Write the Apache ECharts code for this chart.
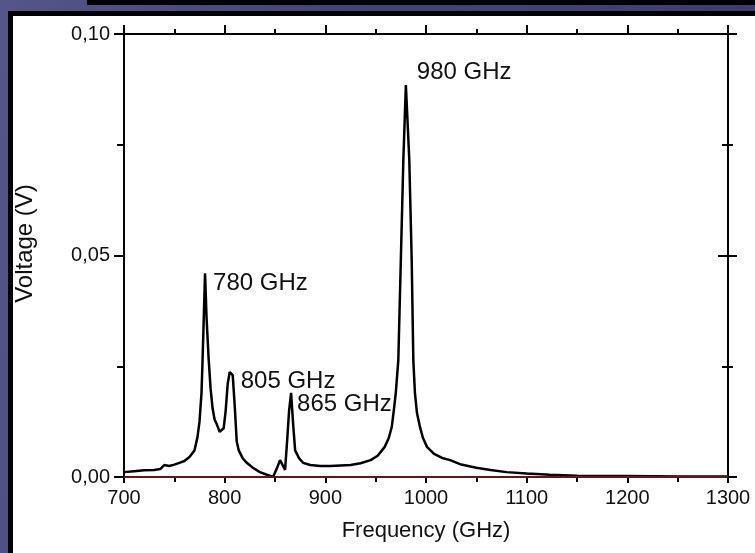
<!DOCTYPE html>
<html>
<head>
<meta charset="utf-8">
<script src="https://cdn.jsdelivr.net/npm/echarts@6/dist/echarts.min.js"></script>
<style>
  html, body { margin: 0; padding: 0; width: 755px; height: 553px; overflow: hidden; }
  body { background: linear-gradient(100deg, #55558a 0%, #44447a 40%, #3c3c72 100%); position: relative; }
  #topbox { position: absolute; left: 87px; top: -6px; width: 700px; height: 6px; background: #fff; border: 5px solid #000; border-top: none; }
  #panel { position: absolute; left: 8px; top: 11px; width: 800px; height: 600px; background: #fff; border: 5px solid #000; box-sizing: border-box; }
  #chart { position: absolute; left: 0; top: 0; width: 755px; height: 553px; }
</style>
</head>
<body>
<div id="topbox"></div>
<div id="panel"></div>
<div id="chart"></div>
<script>
// ---- data ----
const frequency = [700, 710, 720, 730, 736, 740, 745, 750, 755, 760, 765, 770, 773, 775, 777, 778, 779, 780.5, 782, 784, 786, 788, 790, 792, 795, 799, 801, 803, 805, 808, 810, 812, 814, 818, 822, 828, 835, 842, 848, 852, 855, 858, 860, 862, 864, 866, 868, 870, 874, 878, 885, 895, 905, 915, 925, 935, 945, 952, 959, 963, 966, 968, 970, 972.5, 975, 977.5, 980, 983.4, 985.8, 987.4, 989, 991, 994, 997, 1001, 1008, 1016, 1024, 1035, 1050, 1064, 1080, 1100, 1123, 1150, 1200, 1250, 1300];
const voltage = [0.0011, 0.0013, 0.0015, 0.0016, 0.0018, 0.0027, 0.0025, 0.0028, 0.0032, 0.0036, 0.0045, 0.006, 0.009, 0.0125, 0.019, 0.026, 0.034, 0.046, 0.036, 0.027, 0.02, 0.0155, 0.013, 0.012, 0.0102, 0.011, 0.015, 0.021, 0.0237, 0.023, 0.016, 0.008, 0.006, 0.0042, 0.0032, 0.0021, 0.0011, 0.0005, 0.0, 0.002, 0.0038, 0.0025, 0.0016, 0.008, 0.015, 0.019, 0.012, 0.006, 0.0042, 0.0032, 0.0027, 0.0025, 0.0025, 0.0026, 0.0027, 0.0031, 0.0038, 0.0048, 0.0068, 0.0088, 0.0113, 0.015, 0.019, 0.0264, 0.049, 0.0716, 0.0885, 0.0716, 0.049, 0.0264, 0.019, 0.0145, 0.0113, 0.0088, 0.0068, 0.0052, 0.0043, 0.0038, 0.0028, 0.0021, 0.0016, 0.0011, 0.0008, 0.0005, 0.0003, 0.0002, 0.0001, 0.0001];

const peakLabels = ['780 GHz', '805 GHz', '865 GHz', '980 GHz'];
const peakFreq = [780.5, 805, 866, 980];
const peakVolt = [0.046, 0.0237, 0.019, 0.0885];
const peakOffsets = [[8, 10], [11, 9], [6, 12], [11, -13]];

const xTicks = [700, 800, 900, 1000, 1100, 1200, 1300];
const yTicks = [0.00, 0.05, 0.10];

// ---- chart ----
const chart = echarts.init(document.getElementById('chart'), null, { renderer: 'canvas' });
const FONT = '"Liberation Sans", Arial, sans-serif';
const axisCommon = {
  axisLine: { show: true, onZero: false, lineStyle: { color: '#000', width: 2 } },
  splitLine: { show: false }
};
const fmtY = v => v.toFixed(2).replace('.', ',');
const fmtX = v => String(v);

const option = {
  animation: false,
  backgroundColor: 'transparent',
  grid: { left: 124, top: 34, right: 27, bottom: 76, containLabel: false },
  xAxis: [
    Object.assign({}, axisCommon, {
      type: 'value', position: 'bottom', min: xTicks[0], max: xTicks[xTicks.length - 1], interval: 100,
      name: 'Frequency (GHz)', nameLocation: 'middle', nameGap: 43,
      nameTextStyle: { fontFamily: FONT, fontSize: 22, color: '#111' },
      axisTick: { show: true, inside: false, length: 6, lineStyle: { color: '#000', width: 2 } },
      minorTick: { show: true, splitNumber: 2, length: 5, lineStyle: { color: '#000', width: 2 } },
      axisLabel: { show: true, margin: 11, fontFamily: FONT, fontSize: 20, color: '#111', formatter: fmtX }
    }),
    Object.assign({}, axisCommon, {
      type: 'value', position: 'top', min: xTicks[0], max: xTicks[xTicks.length - 1], interval: 100,
      axisTick: { show: true, inside: false, length: 9, lineStyle: { color: '#000', width: 2 } },
      minorTick: { show: true, splitNumber: 2, length: 5, lineStyle: { color: '#000', width: 2 } },
      axisLabel: { show: false }
    })
  ],
  yAxis: [
    Object.assign({}, axisCommon, {
      type: 'value', position: 'left', min: yTicks[0], max: yTicks[yTicks.length - 1], interval: 0.05,
      name: 'Voltage (V)', nameLocation: 'middle', nameGap: 87,
      nameTextStyle: { fontFamily: FONT, fontSize: 24, color: '#111', padding: [0, 0, 0, 24] },
      axisTick: { show: true, inside: false, length: 10, lineStyle: { color: '#000', width: 2 } },
      minorTick: { show: true, splitNumber: 2, length: 7, lineStyle: { color: '#000', width: 2 } },
      axisLabel: { show: true, margin: 14, fontFamily: FONT, fontSize: 20, color: '#111', formatter: fmtY }
    }),
    Object.assign({}, axisCommon, {
      type: 'value', position: 'right', min: yTicks[0], max: yTicks[yTicks.length - 1], interval: 0.05,
      axisTick: { show: true, inside: false, length: 9, lineStyle: { color: '#000', width: 2 } },
      minorTick: { show: true, splitNumber: 2, length: 5, lineStyle: { color: '#000', width: 2 } },
      axisLabel: { show: false }
    }),
    Object.assign({}, axisCommon, {
      type: 'value', position: 'right', min: yTicks[0], max: yTicks[yTicks.length - 1], interval: 0.05,
      axisTick: { show: true, inside: true, length: 10, lineStyle: { color: '#000', width: 2 } },
      minorTick: { show: true, splitNumber: 2, length: 6, lineStyle: { color: '#000', width: 2 } },
      axisLabel: { show: false }
    })
  ],
  series: [{
    type: 'line',
    data: frequency.map((f, i) => [f, voltage[i]]),
    showSymbol: false,
    symbol: 'none',
    smooth: false,
    lineStyle: { color: '#000', width: 2.5 },
    markLine: {
      silent: true, symbol: 'none', label: { show: false },
      lineStyle: { color: '#8b1c1c', width: 1.5, type: 'solid' },
      data: [{ yAxis: 0 }]
    },
    markPoint: {
      silent: true,
      symbol: 'circle', symbolSize: 0,
      data: peakLabels.map((t, i) => ({
        coord: [peakFreq[i], peakVolt[i]],
        label: {
          show: true, formatter: t, position: 'right', distance: 0,
          offset: peakOffsets[i],
          fontFamily: FONT, fontSize: 24, color: '#111'
        }
      }))
    }
  }]
};
chart.setOption(option);
</script>
</body>
</html>
